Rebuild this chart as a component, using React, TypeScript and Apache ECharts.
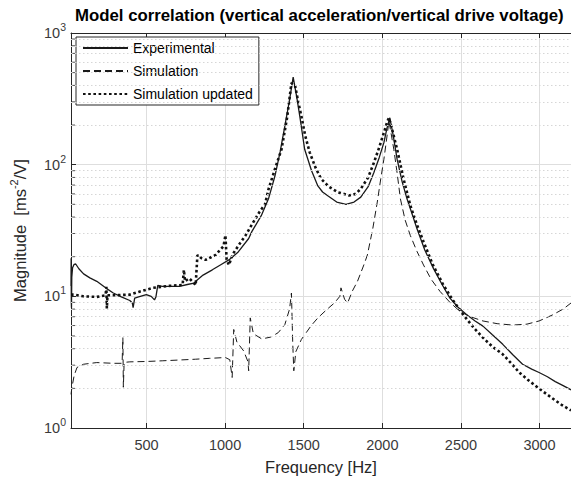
import React, { useEffect, useRef } from "react";
import * as echarts from "echarts";

const TITLE = "Model correlation (vertical acceleration/vertical drive voltage)";
const X_MIN = 20;
const X_MAX = 3200;
const X_TICKS = [500, 1000, 1500, 2000, 2500, 3000];
const Y_MINOR = [2, 3, 4, 5, 6, 7, 8, 9, 20, 30, 40, 50, 60, 70, 80, 90, 200, 300, 400, 500, 600, 700, 800, 900];
const LEGEND_NAMES = ["Experimental", "Simulation", "Simulation updated"];

const EXPERIMENTAL: [number, number][] = [
  [20, 12], [21, 19.5], [22, 9], [23, 8.2], [25, 14], [30, 16.5], [40, 17.5], [50, 17.6], [70, 16.2],
  [100, 14.8], [140, 13.8], [184, 13.0], [240, 11.6], [289, 10.6], [340, 9.9], [394, 9.3], [410, 8.9],
  [415, 8.2], [425, 9.7], [450, 9.9], [499, 10.3], [530, 10.0], [551, 9.4], [560, 9.9], [572, 12.1],
  [600, 11.9], [650, 11.9], [709, 11.9], [760, 12.3], [803, 12.6], [813, 12.4], [819, 13.2], [860, 14.5],
  [919, 15.9], [970, 17.3], [1024, 18.9], [1080, 21.5], [1150, 27.5], [1170, 31], [1230, 41], [1276, 55],
  [1317, 82], [1350, 125], [1380, 196], [1410, 310], [1433, 463], [1455, 330], [1475, 234], [1506, 131],
  [1550, 90], [1590, 69], [1620, 62], [1653, 58], [1710, 52], [1769, 50], [1820, 52], [1863, 56.7],
  [1910, 68], [1947, 87.5], [1980, 113], [2010, 147], [2030, 190], [2048, 227], [2070, 165], [2094, 110],
  [2125, 75], [2157, 55], [2190, 42], [2220, 32.7], [2270, 22.5], [2325, 16.3], [2380, 12.3], [2430, 9.7],
  [2480, 8.3], [2535, 7.27], [2590, 6.5], [2640, 5.94], [2700, 5.1], [2766, 4.32], [2830, 3.6], [2892, 3.05],
  [2950, 2.8], [2997, 2.64], [3050, 2.45], [3100, 2.25], [3150, 2.1], [3200, 1.95],
];

const SIMULATION: [number, number][] = [
  [20, 1.8], [26, 2.04], [40, 2.5], [58, 2.88], [100, 3.05], [184, 3.14], [289, 3.1], [345, 3.1],
  [350, 4.85], [353, 2.04], [358, 3.15], [394, 3.18], [500, 3.2], [604, 3.24], [700, 3.28], [813, 3.33],
  [900, 3.38], [1002, 3.43], [1030, 3.3], [1045, 2.42], [1055, 5.6], [1075, 4.5], [1118, 3.85], [1145, 3.2],
  [1150, 2.72], [1160, 6.86], [1180, 5.2], [1233, 4.75], [1290, 4.9], [1338, 5.3], [1380, 6.1], [1410, 8],
  [1422, 10.6], [1430, 4.5], [1437, 2.72], [1450, 3.8], [1485, 4.7], [1548, 6.0], [1590, 6.86], [1650, 8.0],
  [1695, 8.9], [1730, 10], [1737, 11.6], [1760, 9.5], [1779, 8.9], [1810, 11], [1842, 13], [1880, 17],
  [1905, 20.6], [1940, 33], [1968, 52], [1990, 78], [2010, 110], [2030, 165], [2042, 214], [2055, 175],
  [2073, 131], [2095, 85], [2115, 55], [2145, 38], [2178, 29], [2220, 22], [2262, 17.3], [2310, 13.5],
  [2367, 10.9], [2430, 9.0], [2493, 7.7], [2560, 7.0], [2640, 6.5], [2730, 6.2], [2829, 6.05], [2920, 6.15],
  [2997, 6.5], [3080, 7.2], [3150, 8.0], [3200, 8.9],
];

const SIMULATION_UPDATED: [number, number][] = [
  [20, 10.3], [37, 10.3], [100, 10.0], [184, 9.9], [240, 10.2], [245, 11.8], [248, 8.1], [252, 10.2],
  [300, 10.2], [394, 10.3], [450, 10.8], [541, 11.6], [640, 12.0], [730, 12.2], [738, 15.9], [745, 13],
  [772, 13.7], [813, 12.2], [824, 20.6], [850, 19.5], [876, 18.9], [939, 20.6], [990, 24], [1002, 29.1],
  [1010, 19], [1024, 17.3], [1050, 21], [1087, 24.5], [1130, 29], [1170, 35], [1220, 44], [1254, 50],
  [1276, 65], [1320, 95], [1359, 131], [1395, 230], [1422, 417], [1445, 400], [1465, 300], [1485, 234],
  [1510, 165], [1538, 124], [1575, 95], [1611, 78], [1660, 68], [1716, 61.8], [1789, 58.3], [1830, 60],
  [1863, 65.5], [1910, 80], [1947, 104], [1980, 135], [2010, 175], [2030, 210], [2042, 227], [2060, 190],
  [2094, 131], [2135, 78], [2178, 49], [2220, 35], [2262, 26], [2320, 17.5], [2388, 12.2], [2450, 9.3],
  [2514, 7.27], [2580, 5.8], [2640, 4.85], [2700, 4.15], [2766, 3.63], [2820, 3.1], [2871, 2.64],
  [2930, 2.3], [3000, 1.98], [3070, 1.72], [3140, 1.5], [3200, 1.36],
];

export default function App() {
  const ref = useRef<HTMLDivElement>(null);

  useEffect(() => {
    if (!ref.current) return;
    const chart = echarts.init(ref.current, null, { renderer: "svg" });
    const font = "'Liberation Sans', Arial, Helvetica, sans-serif";
    const axisColor = "#262626";
    const gridColor = "#dedede";
    const curveColor = "#1a1a1a";

    chart.setOption({
      animation: false,
      backgroundColor: "#ffffff",
      textStyle: { fontFamily: font },
      title: {
        text: TITLE,
        left: 70,
        top: 2,
        textStyle: { fontFamily: font, fontSize: 16.8, fontWeight: "bold", color: "#000" },
      },
      grid: { left: 67, top: 33, width: 505, height: 398, containLabel: false },
      legend: {
        data: LEGEND_NAMES,
        orient: "vertical",
        left: 76,
        top: 37,
        itemWidth: 45,
        itemHeight: 14,
        itemGap: 7,
        padding: [3, 6, 3, 6],
        borderColor: axisColor,
        borderWidth: 1,
        borderRadius: 0,
        backgroundColor: "#ffffff",
        itemStyle: { opacity: 0, borderWidth: 0 },
        textStyle: { fontFamily: font, fontSize: 14, color: "#000", lineHeight: 16 },
      },
      xAxis: [
        {
          type: "value",
          min: X_MIN,
          max: X_MAX,
          position: "bottom",
          axisLine: { show: true, onZero: false, lineStyle: { color: axisColor, width: 1 } },
          axisTick: { show: true, inside: true, length: 5, customValues: X_TICKS, lineStyle: { color: axisColor } },
          axisLabel: {
            customValues: X_TICKS,
            formatter: (v: number) => String(v),
            fontFamily: font,
            fontSize: 14.5,
            color: "#3a3a3a",
            margin: 9,
          },
          splitLine: { show: true, lineStyle: { color: gridColor, width: 1 } },
          name: "Frequency [Hz]",
          nameLocation: "middle",
          nameGap: 30,
          nameTextStyle: { fontFamily: font, fontSize: 16.5, color: "#262626" },
        },
        {
          type: "value",
          min: X_MIN,
          max: X_MAX,
          position: "top",
          axisLine: { show: true, onZero: false, lineStyle: { color: axisColor, width: 1 } },
          axisTick: { show: true, inside: true, length: 5, customValues: X_TICKS, lineStyle: { color: axisColor } },
          axisLabel: { show: false },
          splitLine: { show: false },
        },
      ],
      yAxis: [
        {
          type: "log",
          logBase: 10,
          min: 1,
          max: 1000,
          axisLine: { show: true, onZero: false, lineStyle: { color: axisColor, width: 1 } },
          axisTick: { show: true, inside: true, length: 5, lineStyle: { color: axisColor } },
          axisLabel: {
            margin: 5,
            color: "#3a3a3a",
            formatter: (v: number) => `{b|10}{s|${Math.round(Math.log10(v))}}`,
            rich: {
              b: { fontFamily: font, fontSize: 14.5, color: "#3a3a3a" },
              s: { fontFamily: font, fontSize: 10.5, color: "#3a3a3a", padding: [0, 0, 12, 0] },
            },
          },
          splitLine: { show: true, lineStyle: { color: gridColor, width: 1 } },
          name: "Magnitude  [ms{s|-2}/V]",
          nameLocation: "middle",
          nameGap: 40,
          nameRotate: 90,
          nameTextStyle: {
            fontFamily: font,
            fontSize: 16.5,
            color: "#262626",
            rich: {
              s: { fontFamily: font, fontSize: 11, color: "#262626", padding: [0, 0, 12, 0] },
            },
          },
        },
      ],
      series: [
        {
          name: "minor",
          type: "scatter",
          silent: true,
          clip: false,
          z: 1,
          symbol: "rect",
          symbolSize: [4, 1],
          symbolOffset: [2, 0],
          itemStyle: { color: axisColor },
          data: Y_MINOR.map((v) => [X_MIN, v]),
          markLine: {
            silent: true,
            symbol: ["none", "none"],
            label: { show: false },
            lineStyle: { color: "#d6d6d6", type: [1.5, 2.5], width: 1 },
            data: Y_MINOR.map((v) => ({ yAxis: v })),
          },
        },
        {
          name: "Experimental",
          type: "line",
          data: EXPERIMENTAL,
          symbol: "none",
          showSymbol: false,
          z: 3,
          lineStyle: { color: curveColor, width: 1.3 },
          itemStyle: { color: curveColor },
        },
        {
          name: "Simulation",
          type: "line",
          data: SIMULATION,
          symbol: "none",
          showSymbol: false,
          z: 3,
          lineStyle: { color: curveColor, width: 1, type: [7, 4] },
          itemStyle: { color: curveColor },
        },
        {
          name: "Simulation updated",
          type: "line",
          data: SIMULATION_UPDATED,
          symbol: "none",
          showSymbol: false,
          z: 4,
          lineStyle: { color: "#111", width: 2.6, type: [2.6, 2.6], cap: "butt" },
          itemStyle: { color: "#111" },
        },
      ],
    });

    return () => chart.dispose();
  }, []);

  return <div ref={ref} style={{ position: "fixed", left: 0, top: 0, width: 571, height: 480 }} />;
}
